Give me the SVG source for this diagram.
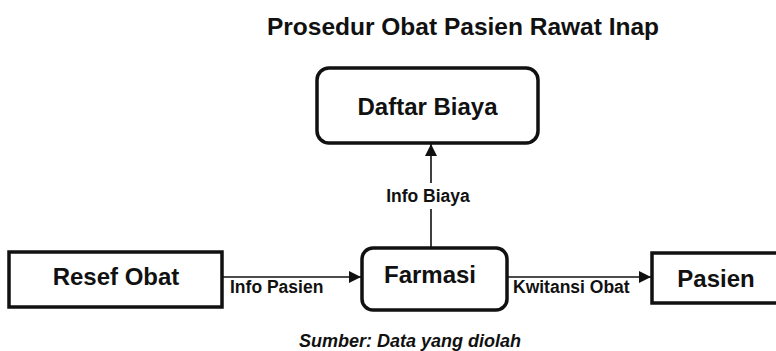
<svg xmlns="http://www.w3.org/2000/svg" width="776" height="351" viewBox="0 0 776 351">
<style>
  text { font-family: "Liberation Sans", Arial, sans-serif; font-weight: bold; fill: #111; }
  .title { font-size: 24.5px; }
  .node { font-size: 24px; }
  .lbl { font-size: 17.5px; }
  .src { font-size: 18px; font-style: italic; }
  .box { fill: #fff; stroke: #111; stroke-width: 3.5; }
  .conn { fill: none; stroke: #111; stroke-width: 1.6; }
</style>
<defs>
  <marker id="arr" markerUnits="userSpaceOnUse" markerWidth="13" markerHeight="12" refX="12" refY="6" orient="auto">
    <path d="M0,0 L12,6 L0,12 Z" fill="#111"/>
  </marker>
</defs>
<rect width="776" height="351" fill="#fff"/>
<text class="title" x="463" y="35" text-anchor="middle">Prosedur Obat Pasien Rawat Inap</text>

<g id="connectors">
  <path class="conn" d="M222 277 H361" marker-end="url(#arr)"/>
  <path class="conn" d="M507 277 H651" marker-end="url(#arr)"/>
  <path class="conn" d="M431 248 V209 M431 183 V144" marker-end="url(#arr)"/>
  <text class="lbl" x="230" y="293">Info Pasien</text>
  <text class="lbl" x="513" y="293">Kwitansi Obat</text>
  <text class="lbl" x="428" y="202" text-anchor="middle">Info Biaya</text>
</g>

<g id="daftar-biaya">
  <rect class="box" x="317" y="68" width="221" height="75" rx="12"/>
  <text class="node" x="427.5" y="115" text-anchor="middle">Daftar Biaya</text>
</g>
<g id="resef-obat">
  <rect class="box" x="9" y="252" width="213" height="55"/>
  <text class="node" x="116" y="285" text-anchor="middle">Resef Obat</text>
</g>
<g id="farmasi">
  <rect class="box" x="362" y="248" width="145" height="62" rx="11"/>
  <text class="node" x="430" y="283" text-anchor="middle">Farmasi</text>
</g>
<g id="pasien">
  <rect class="box" x="652" y="253" width="130" height="50"/>
  <text class="node" x="716" y="287" text-anchor="middle">Pasien</text>
</g>

<text class="src" x="410" y="347" text-anchor="middle">Sumber: Data yang diolah</text>
</svg>
